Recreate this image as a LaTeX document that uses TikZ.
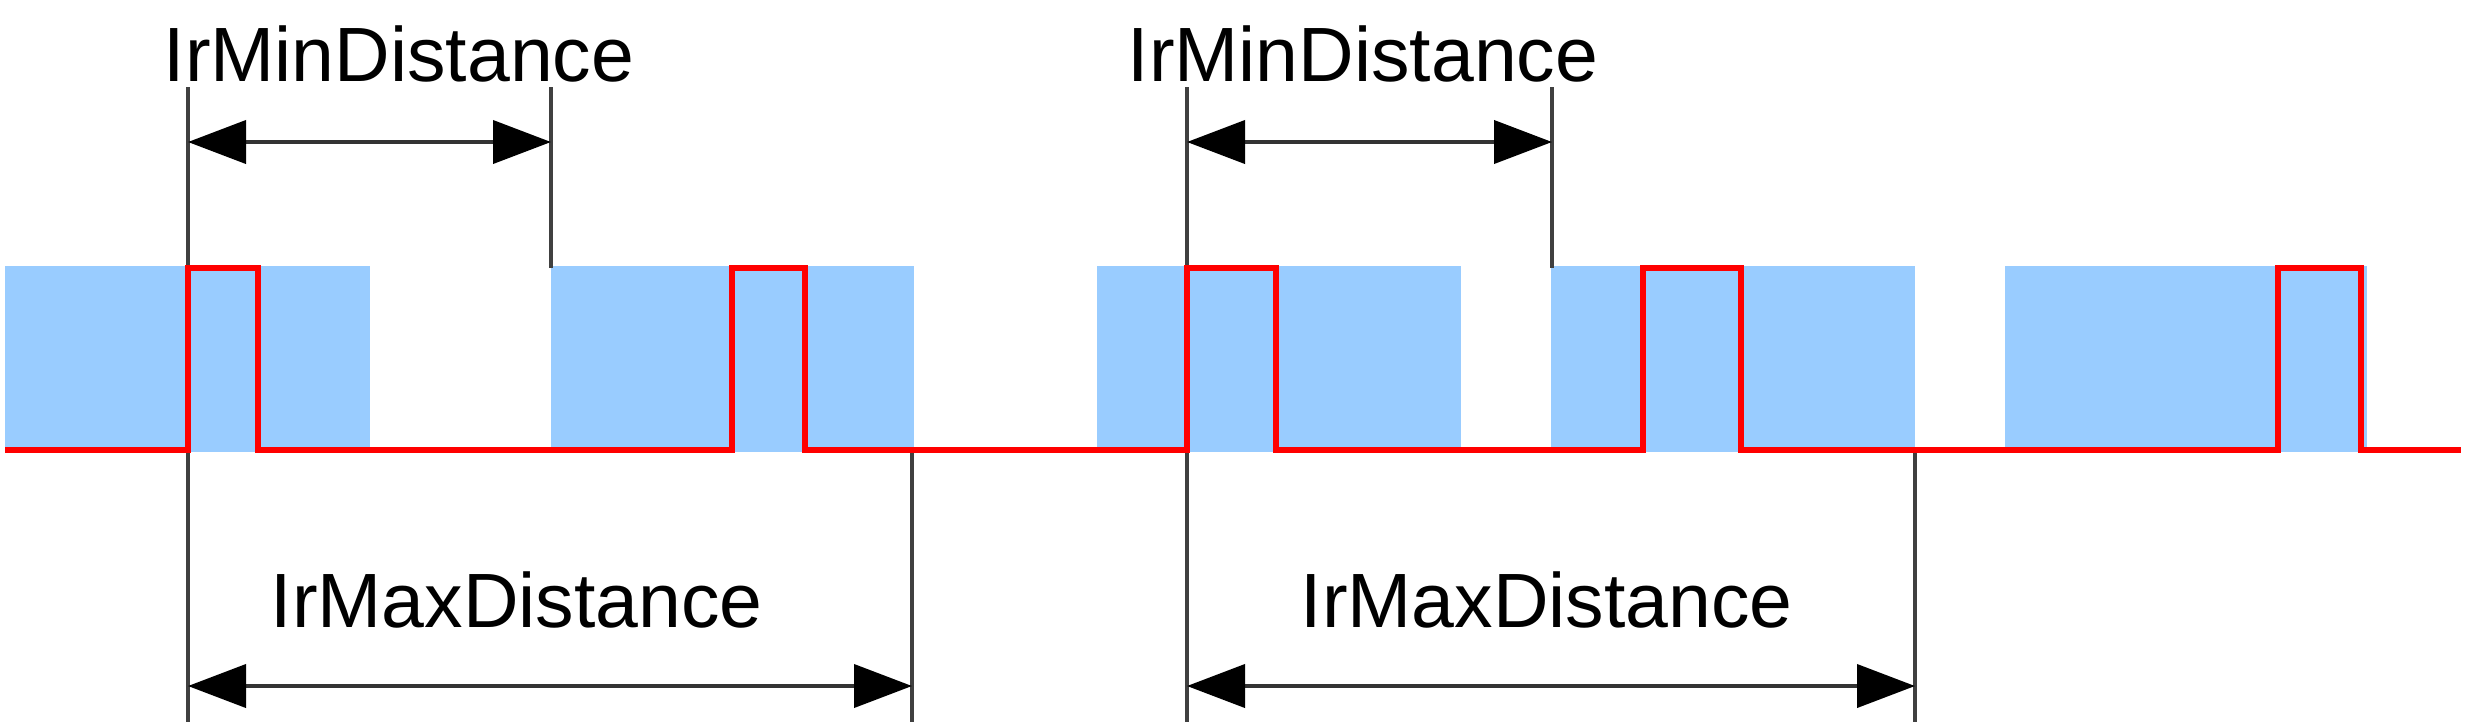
\documentclass[tikz,border=0pt]{standalone}
\usepackage{fontspec}
\setmainfont{Liberation Sans}
\usetikzlibrary{arrows.meta}
\definecolor{winblue}{RGB}{153,204,255}
\definecolor{tickgray}{RGB}{64,64,64}
\begin{document}
\begin{tikzpicture}[x=0.1mm,y=-0.1mm,
    window/.style={fill=winblue},
    tick/.style={draw=tickgray,line width=0.4mm},
    span/.style={draw=black!80,line width=0.4mm,
      {Triangle[length=5.8mm,width=4.3mm,color=black]}-{Triangle[length=5.8mm,width=4.3mm,color=black]}},
    signal/.style={draw=red,line width=0.6mm,line join=miter},
    distlabel/.style={inner sep=0,anchor=base west,font=\fontsize{21.9}{26}\selectfont}]
      \useasboundingbox (0,0) rectangle (2466,726);
      \fill[window] (5,266) rectangle (370,452);
      \fill[window] (551,266) rectangle (914,452);
      \fill[window] (1097,266) rectangle (1461,452);
      \fill[window] (1551,266) rectangle (1915,452);
      \fill[window] (2005,266) rectangle (2367,452);
      \draw
        (163,81) node[distlabel] (min1){IrMinDistance}
        (1127,81) node[distlabel] (min2){IrMinDistance}
        (270,627) node[distlabel] (max1){IrMaxDistance}
        (1300,627) node[distlabel] (max2){IrMaxDistance};
      \coordinate (s1t) at (188,87);
      \coordinate (s1b) at (188,722);
      \coordinate (m1t) at (551,87);
      \coordinate (m1b) at (551,268);
      \coordinate (x1t) at (912,450);
      \coordinate (x1b) at (912,722);
      \coordinate (s2t) at (1187,87);
      \coordinate (s2b) at (1187,722);
      \coordinate (m2t) at (1552,87);
      \coordinate (m2b) at (1552,268);
      \coordinate (x2t) at (1915,450);
      \coordinate (x2b) at (1915,722);
      \coordinate (amin1l) at (188,142);
      \coordinate (amin1r) at (551,142);
      \coordinate (amin2l) at (1187,142);
      \coordinate (amin2r) at (1552,142);
      \coordinate (amax1l) at (188,686);
      \coordinate (amax1r) at (912,686);
      \coordinate (amax2l) at (1187,686);
      \coordinate (amax2r) at (1915,686);
      \begin{scope}[tick]
        \draw (s1t) to (s1b);
        \draw (m1t) to (m1b);
        \draw (x1t) to (x1b);
        \draw (s2t) to (s2b);
        \draw (m2t) to (m2b);
        \draw (x2t) to (x2b);
      \end{scope}
      \draw[signal] (5,450) -| (188,268) -| (258,450) -| (732,268) -| (805,450)
        -| (1187,268) -| (1276,450) -| (1643,268) -| (1741,450)
        -| (2278,268) -| (2361,450) -- (2461,450);
      \begin{scope}[span]
        \draw (amin1l) to (amin1r);
        \draw (amin2l) to (amin2r);
        \draw (amax1l) to (amax1r);
        \draw (amax2l) to (amax2r);
      \end{scope}
    \end{tikzpicture}
\end{document}
